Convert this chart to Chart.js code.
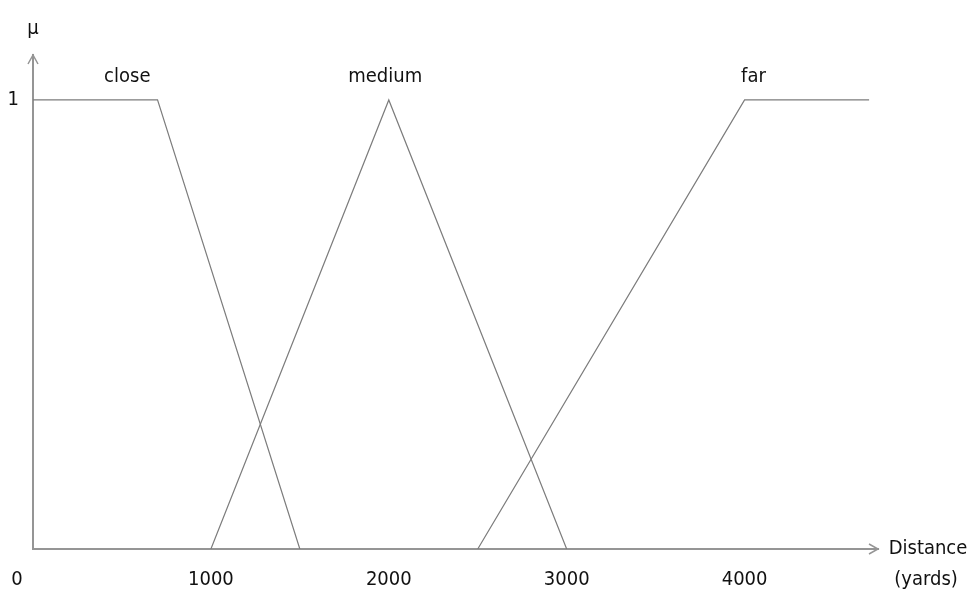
<!DOCTYPE html>
<html>
<head>
<meta charset="utf-8">
<script src="https://cdn.jsdelivr.net/npm/chart.js@4"></script>
<style>
html,body{margin:0;padding:0;background:#fff;}
#wrap{width:974px;height:592px;position:relative;}
</style>
</head>
<body>
<div id="wrap"><canvas id="c" width="974" height="592"></canvas></div>
<script>
// ---- data ----
const seriesNames = ['close', 'medium', 'far'];
const closeX  = [0, 700, 1500];
const closeMu = [1, 1, 0];
const mediumX  = [1000, 2000, 3000];
const mediumMu = [0, 1, 0];
const farX  = [2500, 4000, 4700];
const farMu = [0, 1, 1];
const xTicks = [0, 1000, 2000, 3000, 4000];
const yTicks = [0, 1];
const xTitle = ['Distance', '(yards)'];
const yTitle = 'μ';

const FONT = '"Liberation Sans Narrow","DejaVu Sans Condensed","Liberation Sans",sans-serif';
const TXT = '#111';
const LINE = '#7c7c7c';
const AXIS = '#959595';

function pts(xs, ys){ return xs.map((x,i)=>({x:x, y:ys[i]})); }

const labelAt = { close: 530, medium: 1980, far: 4050 };

const overlay = {
  id: 'overlay',
  afterDraw(chart){
    const ctx = chart.ctx, xs = chart.scales.x, ys = chart.scales.y;
    const x0 = xs.getPixelForValue(0), y0 = ys.getPixelForValue(0);
    const xEnd = chart.chartArea.right, yTop = chart.chartArea.top;
    ctx.save();
    // arrowheads
    ctx.strokeStyle = AXIS; ctx.lineWidth = 1.5;
    ctx.beginPath();
    ctx.moveTo(x0-5, yTop+9); ctx.lineTo(x0, yTop); ctx.lineTo(x0+5, yTop+9);
    ctx.moveTo(xEnd-9, y0-5); ctx.lineTo(xEnd, y0); ctx.lineTo(xEnd-9, y0+5);
    ctx.stroke();
    ctx.fillStyle = TXT;
    ctx.font = '20px ' + FONT;
    ctx.textAlign = 'center'; ctx.textBaseline = 'middle';
    // axis titles
    ctx.fillText(yTitle, x0, 29);
    ctx.fillText(xTitle[0], 928, y0);
    ctx.fillText(xTitle[1], 926, 580);
    // origin label
    ctx.fillText(String(xTicks[0]), 17, 580);
    // series labels
    ctx.textBaseline = 'alphabetic';
    seriesNames.forEach(n=>{
      ctx.fillText(n, xs.getPixelForValue(labelAt[n]), ys.getPixelForValue(1) - 18);
    });
    ctx.restore();
  }
};

const ds = (label, xsArr, ysArr) => ({
  label: label, data: pts(xsArr, ysArr), borderColor: LINE, borderWidth: 1.2,
  pointRadius: 0, fill: false, tension: 0
});

new Chart(document.getElementById('c'), {
  type: 'line',
  data: { datasets: [ ds(seriesNames[0], closeX, closeMu), ds(seriesNames[1], mediumX, mediumMu), ds(seriesNames[2], farX, farMu) ] },
  options: {
    responsive: false, animation: false,
    layout: { padding: { top: 55, right: 96, left: 0, bottom: 0 } },
    plugins: { legend: { display: false }, tooltip: { enabled: false } },
    scales: {
      x: {
        type: 'linear', min: 0, max: 4750,
        grid: { display: false, drawTicks: false },
        border: { display: true, color: AXIS, width: 2 },
        afterBuildTicks: s => { s.ticks = xTicks.filter(v=>v>0).map(v=>({value:v})); },
        afterFit: s => { s.height = 43; },
        ticks: { color: TXT, font: { family: FONT, size: 20 }, padding: 19, maxRotation: 0, autoSkip: false,
                 callback: v => String(v) }
      },
      y: {
        type: 'linear', min: 0, max: 1.1,
        grid: { display: false, drawTicks: false },
        border: { display: true, color: AXIS, width: 2 },
        afterBuildTicks: s => { s.ticks = yTicks.filter(v=>v>0).map(v=>({value:v})); },
        afterFit: s => { s.width = 33; },
        ticks: { color: TXT, font: { family: FONT, size: 20 }, padding: 14, callback: v => String(v) }
      }
    }
  },
  plugins: [overlay]
});
</script>
</body>
</html>
